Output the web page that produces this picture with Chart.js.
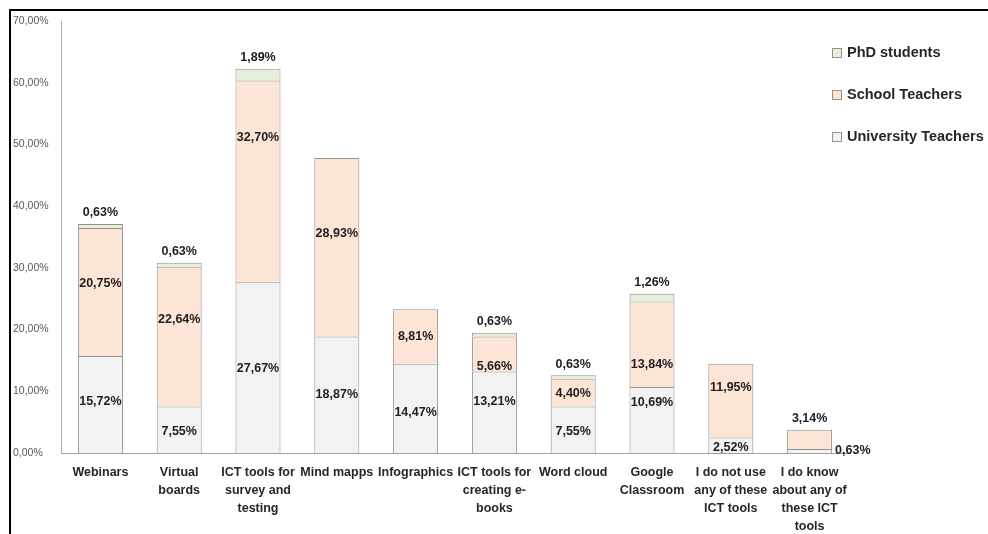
<!DOCTYPE html>
<html>
<head>
<meta charset="utf-8">
<script src="https://cdn.jsdelivr.net/npm/chart.js@4.4.1/dist/chart.umd.min.js"></script>
<style>
  html, body { margin: 0; padding: 0; background: #fff; }
</style>
</head>
<body>
<canvas id="chart" width="988" height="534"></canvas>
<script>
/* Data */
const categories = [
    "Webinars",
    ["Virtual", "boards"],
    ["ICT tools for", "survey and", "testing"],
    "Mind mapps",
    "Infographics",
    ["ICT tools for", "creating e-", "books"],
    "Word cloud",
    ["Google", "Classroom"],
    ["I do not use", "any of these", "ICT tools"],
    ["I do know", "about any of", "these ICT", "tools"]
];
const universityTeachers = [15.72, 7.55, 27.67, 18.87, 14.47, 13.21, 7.55, 10.69, 2.52, 0.63];
const schoolTeachers = [20.75, 22.64, 32.70, 28.93, 8.81, 5.66, 4.40, 13.84, 11.95, 3.14];
const phdStudents = [0.63, 0.63, 1.89, 0, 0, 0.63, 0.63, 1.26, 0, 0];
const yTicks = [0, 10, 20, 30, 40, 50, 60, 70];

/* label nudges (px) used in the original to keep labels apart */
const labelNudge = [
    [-3, 2, 1, 0, 4, -11, 2, -17, 2, 0],     // University
    [-8, -17, -44, -14, 0, 13, 1, 20, -13, 0], // School
    [0, 0, 0, 0, 0, 0, 0, 0, 0, 0]           // PhD
];

const edge = '#97918c';
const fmt = v => v.toFixed(2).replace('.', ',') + '%';

/* draws value labels on the bars */
const valueLabels = {
    id: 'valueLabels',
    afterDatasetsDraw(chart) {
        const ctx = chart.ctx;
        const ds = chart.data.datasets;
        ctx.save();
        ctx.font = 'bold 12.5px "Liberation Sans", Arial, sans-serif';
        ctx.fillStyle = '#1e1e1e';
        ctx.textBaseline = 'middle';
        for (let d = 0; d < ds.length; d++) {
            const meta = chart.getDatasetMeta(d);
            meta.data.forEach((bar, i) => {
                const v = ds[d].data[i];
                if (!v) return;
                // is this the highest non-zero segment?
                let top = true;
                for (let k = d + 1; k < ds.length; k++) if (ds[k].data[i]) top = false;
                const h = bar.base - bar.y;
                ctx.textAlign = 'center';
                let x = bar.x, y;
                if (top && (d === ds.length - 1 || h < 20)) {
                    y = bar.y - 11;
                } else if (h < 5) {
                    ctx.textAlign = 'left';
                    x = bar.x + bar.width / 2 + 3;
                    y = (bar.y + bar.base) / 2 - 1;
                } else {
                    y = (bar.y + bar.base) / 2 + labelNudge[d][i];
                }
                ctx.fillText(fmt(v), x, y);
            });
        }
        ctx.restore();
    }
};

/* frame + legend on the right */
const frameLegend = {
    id: 'frameLegend',
    beforeDraw(chart) {
        const ctx = chart.ctx;
        ctx.save();
        ctx.fillStyle = '#fff';
        ctx.fillRect(0, 0, chart.width, chart.height);
        ctx.restore();
    },
    afterDraw(chart) {
        const ctx = chart.ctx;
        ctx.save();
        ctx.strokeStyle = '#000';
        ctx.lineWidth = 2;
        ctx.beginPath();
        ctx.moveTo(10, chart.height);
        ctx.lineTo(10, 10);
        ctx.lineTo(chart.width, 10);
        ctx.stroke();

        const ds = chart.data.datasets.slice().reverse();
        ctx.font = 'bold 14.5px "Liberation Sans", Arial, sans-serif';
        ctx.textBaseline = 'middle';
        ctx.textAlign = 'left';
        ds.forEach((set, i) => {
            const cy = 53 + i * 42;
            ctx.fillStyle = set.backgroundColor;
            ctx.fillRect(832, cy - 5, 10, 10);
            ctx.strokeStyle = edge;
            ctx.lineWidth = 1;
            ctx.strokeRect(832.5, cy - 4.5, 9, 9);
            ctx.fillStyle = '#262626';
            ctx.fillText(set.label, 847, cy);
        });
        ctx.restore();
    }
};

const ctx = document.getElementById('chart').getContext('2d');
const chart = new Chart(ctx, {
    type: 'bar',
    data: {
        labels: categories,
        datasets: [
            { label: 'University Teachers', data: universityTeachers, backgroundColor: '#f2f2f2', borderColor: edge, borderWidth: 1 },
            { label: 'School Teachers', data: schoolTeachers, backgroundColor: '#fce4d6', borderColor: edge, borderWidth: 1 },
            { label: 'PhD students', data: phdStudents, backgroundColor: '#e6eedc', borderColor: edge, borderWidth: 1 }
        ]
    },
    options: {
        responsive: false,
        animation: false,
        layout: { padding: { left: 13, right: 139, top: 21, bottom: 0 } },
        datasets: { bar: { categoryPercentage: 1, barPercentage: 0.571 } },
        plugins: { legend: { display: false }, tooltip: { enabled: false } },
        scales: {
            x: {
                stacked: true,
                grid: { display: false, drawTicks: false },
                border: { display: true, color: '#a0a0a0', width: 1 },
                ticks: {
                    autoSkip: false, maxRotation: 0, minRotation: 0, padding: 10,
                    color: '#262626',
                    font: { family: '"Liberation Sans", Arial, sans-serif', size: 12.5, weight: 'bold', lineHeight: 1.46 }
                },
                afterFit(scale) { scale.height = 81; }
            },
            y: {
                stacked: true,
                min: 0, max: 70,
                afterBuildTicks(scale) { scale.ticks = yTicks.map(v => ({ value: v })); },
                grid: { display: false, drawTicks: false },
                border: { display: true, color: '#b0b0b0', width: 1 },
                ticks: {
                    crossAlign: 'far',
                    color: '#595959',
                    font: { family: '"Liberation Sans", Arial, sans-serif', size: 10.5 },
                    callback: v => fmt(v)
                },
                afterFit(scale) { scale.width = 48; }
            }
        }
    },
    plugins: [valueLabels, frameLegend]
});
</script>
</body>
</html>
